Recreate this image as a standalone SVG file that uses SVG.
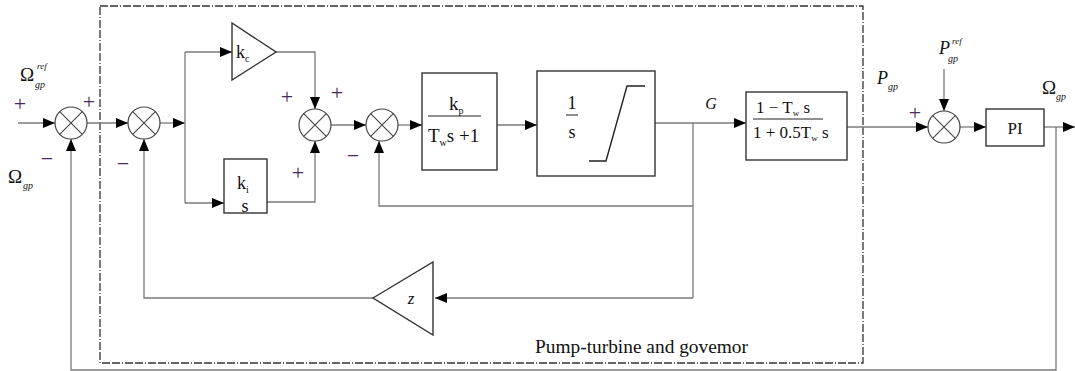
<svg xmlns="http://www.w3.org/2000/svg" width="1075" height="371" viewBox="0 0 1075 371">
<style>
.blk{fill:#fff;stroke:#333;stroke-width:1.4}
.sum{fill:#fff;stroke:#444;stroke-width:1.2}
.x{stroke:#444;stroke-width:1.1}
.ln{fill:none;stroke:#7a7a7a;stroke-width:1.3}
.ar{fill:none;stroke:#7a7a7a;stroke-width:1.3;marker-end:url(#ah)}
.t{font-family:"Liberation Serif",serif;fill:#111}
.it{font-family:"Liberation Serif",serif;font-style:italic;fill:#111}
.pm{font-family:"Liberation Serif",serif;fill:#4a2a5a;font-size:22px;text-anchor:middle}
</style>
<defs>
<marker id="ah" markerWidth="12" markerHeight="10" refX="12" refY="5" orient="auto" markerUnits="userSpaceOnUse">
<path d="M0,0 L12,5 L0,10 Z" fill="#000"/>
</marker>
</defs>
<rect x="100" y="6" width="763" height="357" fill="none" stroke="#333" stroke-width="1.3" stroke-dasharray="8 2 8 2 1 2"/>
<g id="connectors">
<path class="ar" d="M18,123 H55"/>
<path class="ar" d="M87,123 H128"/>
<path class="ar" d="M160,123 H185"/>
<path class="ln" d="M185,52 V203"/>
<path class="ar" d="M185,52 H232"/>
<path class="ar" d="M276,52 H315 V109"/>
<path class="ar" d="M185,203 H224"/>
<path class="ar" d="M267,202 H315 V141"/>
<path class="ar" d="M331,125 H366"/>
<path class="ar" d="M398,125 H422"/>
<path class="ar" d="M497,125 H537"/>
<path class="ar" d="M655,123 H746"/>
<path class="ln" d="M693,123 V298"/>
<path class="ar" d="M693,206 H379 V141"/>
<path class="ar" d="M693,298 H435"/>
<path class="ar" d="M373,298 H144 V139"/>
<path class="ar" d="M847,127 H928"/>
<path class="ar" d="M944,69 V111"/>
<path class="ar" d="M960,127 H986"/>
<path class="ar" d="M1044,127 H1075"/>
<path class="ar" d="M1056,127 V370 H71 V139"/>
</g>
<g id="sum1"><circle class="sum" cx="71" cy="123" r="16"/><path class="x" d="M59.7,111.7 L82.3,134.3 M82.3,111.7 L59.7,134.3"/></g>
<g id="sum2"><circle class="sum" cx="144" cy="123" r="16"/><path class="x" d="M132.7,111.7 L155.3,134.3 M155.3,111.7 L132.7,134.3"/></g>
<g id="sum3"><circle class="sum" cx="315" cy="125" r="16"/><path class="x" d="M303.7,113.7 L326.3,136.3 M326.3,113.7 L303.7,136.3"/></g>
<g id="sum4"><circle class="sum" cx="382" cy="125" r="16"/><path class="x" d="M370.7,113.7 L393.3,136.3 M393.3,113.7 L370.7,136.3"/></g>
<g id="sum5"><circle class="sum" cx="944" cy="127" r="16"/><path class="x" d="M932.7,115.7 L955.3,138.3 M955.3,115.7 L932.7,138.3"/></g>
<g id="kc"><polygon class="blk" points="232,23 232,80 276,52"/><text class="t" x="236" y="58" font-size="18">k<tspan font-size="10" dy="4">c</tspan></text></g>
<g id="ki"><rect class="blk" x="224" y="159" width="43" height="54"/><text class="t" x="237" y="189" font-size="18">k<tspan font-size="10" dy="4">i</tspan></text><text class="t" x="245" y="212" font-size="18" text-anchor="middle">s</text></g>
<g id="kp"><rect class="blk" x="422" y="73" width="75" height="97"/><text class="t" x="449" y="110" font-size="19">k<tspan font-size="10" dy="4">p</tspan></text><line x1="428" y1="116" x2="481" y2="116" stroke="#222" stroke-width="1"/><text class="t" x="428" y="142" font-size="19">T<tspan font-size="10" dy="4">w</tspan><tspan dy="-4">s +1</tspan></text></g>
<g id="integrator"><rect class="blk" x="537" y="71" width="118" height="105"/><text class="t" x="572" y="109" font-size="18" text-anchor="middle">1</text><line x1="566" y1="115" x2="578" y2="115" stroke="#222" stroke-width="1"/><text class="t" x="572" y="138" font-size="18" text-anchor="middle">s</text><polyline points="589,161 606,161 627,86 645,86" fill="none" stroke="#222" stroke-width="1.4"/></g>
<g id="tf"><rect class="blk" x="746" y="92" width="101" height="68"/><text class="t" x="756" y="113" font-size="17">1 − T<tspan font-size="9" dy="3">w</tspan><tspan dy="-3"> s</tspan></text><line x1="753" y1="119" x2="823" y2="119" stroke="#222" stroke-width="1"/><text class="t" x="753" y="138" font-size="17">1 + 0.5T<tspan font-size="9" dy="3">w</tspan><tspan dy="-3"> s</tspan></text></g>
<g id="pi"><rect class="blk" x="986" y="109" width="58" height="37"/><text class="t" x="1015" y="134" font-size="17" text-anchor="middle" fill="#1a2a66">PI</text></g>
<g id="z"><polygon class="blk" points="373,298 433,262 433,335"/><text class="it" x="411" y="304" font-size="17" text-anchor="middle">z</text></g>
<g id="labels">
<text class="t" x="20" y="81" font-size="19">Ω</text><text class="it" x="37" y="69" font-size="9">ref</text><text class="it" x="35" y="88" font-size="10">gp</text>
<text class="pm" x="20" y="111">+</text>
<text class="pm" x="89" y="109">+</text>
<text class="pm" x="47" y="166">−</text>
<text class="t" x="8" y="183" font-size="19">Ω</text><text class="it" x="23" y="189" font-size="10">gp</text>
<text class="pm" x="123" y="171">−</text>
<text class="pm" x="287" y="104">+</text>
<text class="pm" x="337" y="100">+</text>
<text class="pm" x="298" y="180">+</text>
<text class="pm" x="353" y="163">−</text>
<text class="it" x="711" y="109" font-size="16" text-anchor="middle">G</text>
<text class="it" x="877" y="84" font-size="18">P</text><text class="it" x="888" y="90" font-size="10">gp</text>
<text class="pm" x="915" y="120" fill="#1a2a66">+</text>
<text class="it" x="939" y="54" font-size="18">P</text><text class="it" x="952" y="44" font-size="9">ref</text><text class="it" x="948" y="62" font-size="10">gp</text>
<text class="t" x="1042" y="94" font-size="19">Ω</text><text class="it" x="1056" y="100" font-size="10">gp</text>
<text class="t" x="535" y="353" font-size="18" textLength="213" lengthAdjust="spacingAndGlyphs">Pump-turbine and govemor</text>
</g>
</svg>
